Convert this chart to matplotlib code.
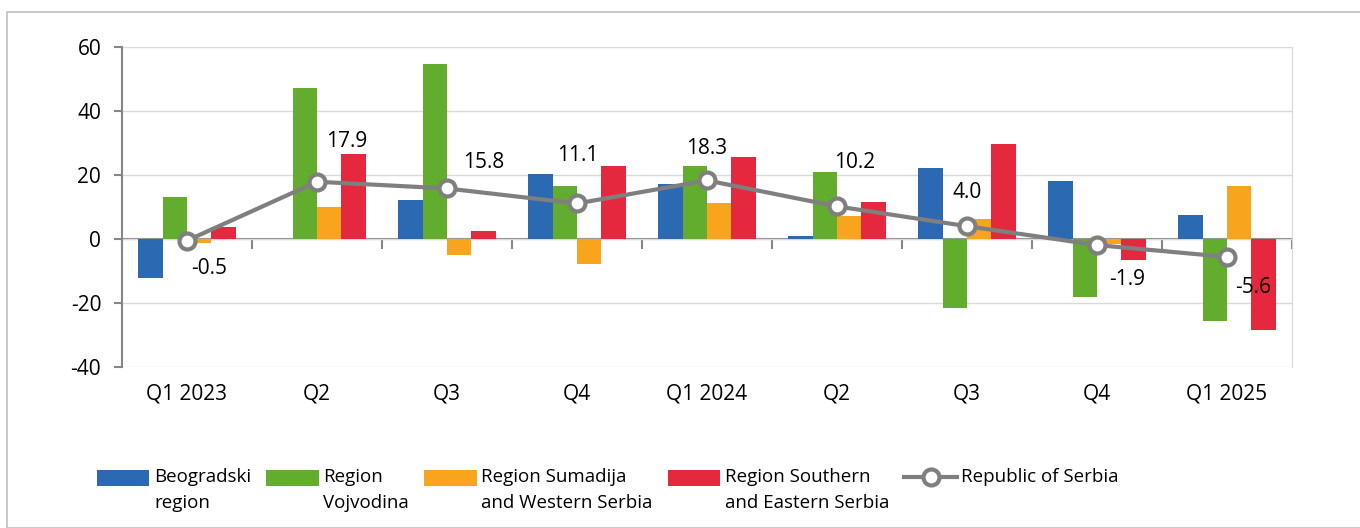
import numpy as np
import matplotlib
matplotlib.use("Agg")
import matplotlib.pyplot as plt
from matplotlib.lines import Line2D
from matplotlib.patches import Rectangle
from matplotlib.container import BarContainer
from matplotlib.legend_handler import HandlerPatch, HandlerLine2D, update_from_first_child

plt.rcParams['font.family'] = ['Open Sans', 'DejaVu Sans']

categories = ["Q1 2023", "Q2", "Q3", "Q4", "Q1 2024", "Q2", "Q3", "Q4", "Q1 2025"]
beogradski = [-12.2, 0.0, 12.2, 20.3, 17.1, 0.9, 22.3, 18.2, 7.5]
vojvodina = [13.1, 47.3, 54.8, 16.5, 22.9, 21.0, -21.5, -18.1, -25.5]
sumadija = [-1.4, 10.1, -5.0, -7.9, 11.3, 7.3, 6.3, -1.5, 16.7]
southern = [3.8, 26.5, 2.4, 22.7, 25.5, 11.7, 29.6, -6.5, -28.4]
serbia = [-0.5, 17.9, 15.8, 11.1, 18.3, 10.2, 4.0, -1.9, -5.6]
series_names = ["Beogradski\nregion", "Region\nVojvodina", "Region Sumadija\nand Western Serbia",
                "Region Southern\nand Eastern Serbia", "Republic of Serbia\n "]
yticks = [-40, -20, 0, 20, 40, 60]

colors = ["#2B6AB3", "#62AC2E", "#F8A51D", "#E5283D"]
line_color = "#7F7F7F"
# label offsets in pixels relative to each point
label_offsets = [(22, -28), (30, 40), (37, 26), (1, 48), (0, 32), (18, 44), (0, 34), (30, -34), (26, -31)]

W, H = 1360, 528
fig = plt.figure(figsize=(W / 100, H / 100), dpi=100)
ax = fig.add_axes([122 / W, 1 - 367 / H, (1292 - 122) / W, (367 - 47) / H])

x = np.arange(len(categories))
bw = 0.187
bars = []
for i, (vals, c) in enumerate(zip([beogradski, vojvodina, sumadija, southern], colors)):
    b = ax.bar(x + (i - 1.5) * bw, vals, bw, color=c, zorder=3, label=series_names[i])
    bars.append(b)

ln, = ax.plot(x, serbia, color=line_color, lw=3, marker='o', ms=11.5, mfc='white', mec=line_color,
              mew=3, zorder=5, label=series_names[4])

for xi, v, (dx, dy) in zip(x, serbia, label_offsets):
    ax.annotate(f"{v:.1f}", (xi, v), xytext=(dx, dy), textcoords='offset pixels',
                ha='center', va='center', fontsize=15, color='black', zorder=6)

ax.set_xlim(-0.5, 8.5)
ax.set_ylim(-40, 60)
ax.set_yticks(yticks)
ax.set_yticklabels([str(t) for t in yticks])
ax.grid(axis='y', color='#D9D9D9', lw=1, zorder=0)
ax.set_axisbelow(True)
for s in ['top', 'bottom']:
    ax.spines[s].set_visible(False)
ax.spines['right'].set_color('#D9D9D9')
ax.spines['left'].set_color('#868686')
ax.spines['left'].set_linewidth(1.5)
ax.tick_params(axis='y', direction='out', length=6, width=1.5, color='#868686', labelsize=15, pad=9)
ax.set_xticks(x)
ax.set_xticklabels(categories)
ax.tick_params(axis='x', length=0, labelsize=15, pad=12)

sec = ax.secondary_xaxis(0.4)
sec.spines['bottom'].set_color('#868686')
sec.spines['bottom'].set_linewidth(1.5)
sec.set_xticks(np.arange(-0.5, 9.0, 1.0))
sec.set_xticklabels([])
sec.tick_params(axis='x', direction='out', length=7, width=1.5, color='#868686')


def shifted(handler_cls, shift, **kw):
    class H(handler_cls):
        def create_artists(self, *a, **k):
            arts = super().create_artists(*a, **k)
            for art in arts:
                if isinstance(art, Line2D):
                    art.set_ydata(np.asarray(art.get_ydata()) + shift)
                else:
                    art.set_y(art.get_y() + shift)
            return arts
    return H(**kw)


leg_fs = 13.5
linesp = 1.6
shift = 9.0
leg = fig.legend(handles=bars + [ln], labels=series_names, loc='center left',
                 bbox_to_anchor=(80 / W, 1 - 490 / H), ncol=5, frameon=False, fontsize=leg_fs,
                 handlelength=2.8, handleheight=0.9, handletextpad=0.25, columnspacing=0.8,
                 handler_map={BarContainer: shifted(HandlerPatch, shift, update_func=update_from_first_child),
                              Line2D: shifted(HandlerLine2D, shift)})
for t in leg.get_texts():
    t.set_linespacing(linesp)

fig.patches.append(Rectangle((7 / W, 0), 1.5, 1 - 12 / H, transform=fig.transFigure,
                             fill=False, edgecolor='#BFBFBF', lw=1.2))

fig.savefig("out.png", dpi=100)
